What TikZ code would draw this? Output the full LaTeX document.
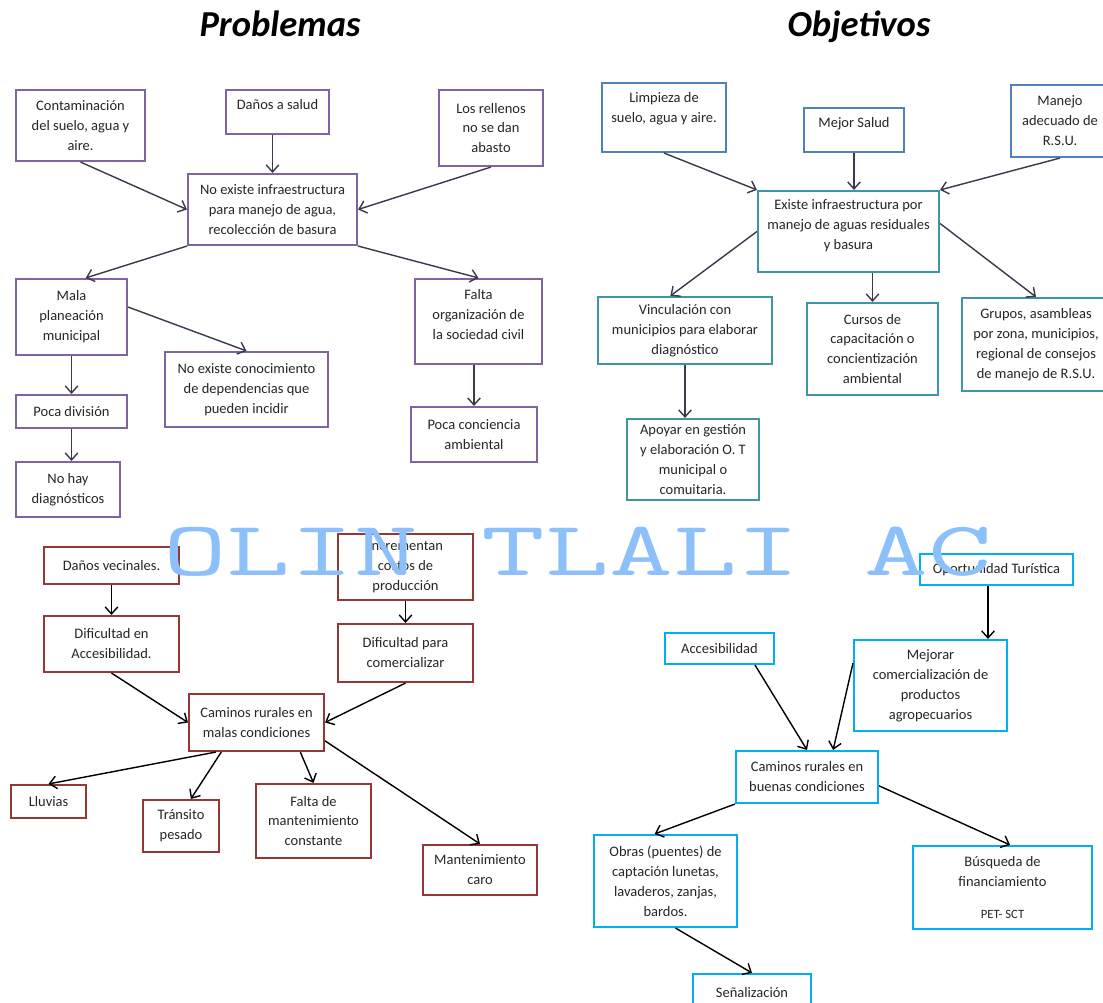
\documentclass[tikz,border=0pt]{standalone}
\usepackage{fontspec}
\usepackage{graphicx}
\setmainfont{Carlito}
\usetikzlibrary{arrows.meta}

\definecolor{ProblemPurple}{RGB}{128,100,162}
\definecolor{GoalBlue}{RGB}{79,129,189}
\definecolor{GoalTeal}{RGB}{62,150,165}
\definecolor{RoadRed}{RGB}{149,55,53}
\definecolor{RoadCyan}{RGB}{0,176,240}
\definecolor{LinkGray}{RGB}{60,56,78}
\definecolor{MarkBlue}{RGB}{140,192,250}

\begin{document}
\begin{tikzpicture}[x=0.025cm, y=-0.025cm]

\def\Px{0.025cm}
\def\Lift{\\[-4pt]\mbox{}}

\path[fill=white, use as bounding box] (0,0) rectangle (1103,1003);

% Styles
\tikzstyle{box} =
	[draw, align=center, inner sep=1pt, line width=1.5pt, text=black!85,
	 font=\fontsize{10.3}{14.2}\selectfont]

\tikzstyle{problem} = [box, draw=ProblemPurple]
\tikzstyle{goal} = [box, draw=GoalBlue]
\tikzstyle{goal core} = [box, draw=GoalTeal]
\tikzstyle{road problem} = [box, draw=RoadRed]
\tikzstyle{road goal} = [box, draw=RoadCyan]

\tikzstyle{heading} =
	[anchor=base, font=\fontsize{26}{30}\selectfont\bfseries\itshape]

% Headings
\node (Problemas) at (280,37) [heading] {Problemas};
\node (Objetivos) at (859,37) [heading] {Objetivos};

% Problemas: infraestructura
\node (Contam) at (80.5,125.5) [problem, minimum width=129*\Px, minimum height=71*\Px]
	{Contaminación\\del suelo, agua y\\aire.};
\node (Danos) at (277.5,112) [problem, minimum width=103*\Px, minimum height=44*\Px]
	{Daños a salud\Lift};
\node (Rellenos) at (491,128) [problem, minimum width=104*\Px, minimum height=76*\Px]
	{Los rellenos\\no se dan\\abasto};
\node (Infra) at (272.5,209.5) [problem, minimum width=169*\Px, minimum height=71*\Px]
	{No existe infraestructura\\para manejo de agua,\\recolección de  basura};
\node (Mala) at (71.5,317) [problem, minimum width=111*\Px, minimum height=76*\Px]
	{Mala\\planeación\\municipal};
\node (Conoc) at (246.5,389.5) [problem, minimum width=163*\Px, minimum height=75*\Px]
	{No existe conocimiento\\de dependencias que\\pueden incidir};
\node (Falta) at (478.5,321.5) [problem, minimum width=127*\Px, minimum height=85*\Px]
	{Falta\\organización de\\la sociedad civil\Lift};
\node (PocaDiv) at (71.5,411.5) [problem, minimum width=111*\Px, minimum height=33*\Px]
	{Poca división};
\node (NoHay) at (68,489.5) [problem, minimum width=104*\Px, minimum height=55*\Px]
	{No hay\\diagnósticos};
\node (PocaConc) at (474,434.5) [problem, minimum width=126*\Px, minimum height=55*\Px]
	{Poca conciencia\\ambiental};

% Objetivos: infraestructura
\node (Limpieza) at (664,117.5) [goal, minimum width=124*\Px, minimum height=69*\Px]
	{Limpieza de\\suelo, agua y aire.\\\mbox{}};
\node (Mejor) at (854,130) [goal, minimum width=100*\Px, minimum height=44*\Px]
	{Mejor Salud\Lift};
\node (Manejo) at (1060,121) [goal, minimum width=98*\Px, minimum height=72*\Px]
	{Manejo\\adecuado de\\R.S.U.};
\node (Existe) at (848.5,231.5) [goal core, minimum width=181*\Px, minimum height=81*\Px]
	{Existe infraestructura por\\manejo de aguas residuales\\y basura\Lift};
\node (Vinc) at (685,330.5) [goal core, minimum width=174*\Px, minimum height=67*\Px]
	{Vinculación con\\municipios para elaborar\\diagnóstico};
\node (Cursos) at (872.5,349) [goal core, minimum width=131*\Px, minimum height=92*\Px]
	{Cursos de\\capacitación o\\concientización\\ambiental};
\node (Grupos) at (1036,344.5) [goal core, minimum width=148*\Px, minimum height=93*\Px]
	{Grupos, asambleas\\por zona, municipios,\\regional de consejos\\de manejo de R.S.U.};
\node (Apoyar) at (693,459.5) [goal core, minimum width=132*\Px, minimum height=81*\Px]
	{Apoyar en gestión\\y elaboración O. T\\municipal o\\comuitaria.};

% Problemas: caminos
\node (DanosVec) at (111.5,565.5) [road problem, minimum width=135*\Px, minimum height=37*\Px]
	{Daños vecinales.};
\node (DifAcc) at (111.5,644) [road problem, minimum width=135*\Px, minimum height=56*\Px]
	{Dificultad en\\Accesibilidad.};
\node (Increm) at (405.5,567) [road problem, minimum width=135*\Px, minimum height=66*\Px]
	{Incrementan\\costos de\\producción};
\node (DifCom) at (405.5,653) [road problem, minimum width=135*\Px, minimum height=58*\Px]
	{Dificultad para\\comercializar};
\node (CamMalas) at (256.5,722.5) [road problem, minimum width=135*\Px, minimum height=57*\Px]
	{Caminos rurales en\\malas condiciones};
\node (Lluvias) at (48.5,801.5) [road problem, minimum width=75*\Px, minimum height=33*\Px]
	{Lluvias};
\node (Transito) at (181,826) [road problem, minimum width=76*\Px, minimum height=52*\Px]
	{Tránsito\\pesado};
\node (FaltaMant) at (313.5,821) [road problem, minimum width=115*\Px, minimum height=74*\Px]
	{Falta de\\mantenimiento\\constante};
\node (MantCaro) at (480,870) [road problem, minimum width=114*\Px, minimum height=50*\Px]
	{Mantenimiento\\caro};

% Objetivos: caminos
\node (Oport) at (996.5,569.5) [road goal, minimum width=153*\Px, minimum height=31*\Px]
	{Oportunidad Turística};
\node (Access) at (719.5,648.5) [road goal, minimum width=109*\Px, minimum height=31*\Px]
	{Accesibilidad};
\node (Mejorar) at (930.5,685.5) [road goal, minimum width=153*\Px, minimum height=91*\Px]
	{Mejorar\\comercialización de\\productos\\agropecuarios};
\node (CamBuenas) at (807,777) [road goal, minimum width=142*\Px, minimum height=52*\Px]
	{Caminos rurales en\\buenas condiciones};
\node (Obras) at (665.5,881) [road goal, minimum width=143*\Px, minimum height=92*\Px]
	{Obras (puentes) de\\captación lunetas,\\lavaderos, zanjas,\\bardos.};
\node (Busq) at (1002.5,887.5) [road goal, minimum width=179*\Px, minimum height=83*\Px]
	{Búsqueda de\\financiamiento\\[8pt]{\fontsize{9}{11}\selectfont PET- SCT}};
\node (Senal) at (752,993) [road goal, minimum width=118*\Px, minimum height=38*\Px]
	{Señalización};

% Edges

\tikzstyle{link} =
	[->, line width=1pt, >={Straight Barb[length=5pt,width=9pt]}]

\path[link, color=LinkGray]
	(Contam.south) edge (Infra.west)
	(Danos.south -| Infra.north) edge (Infra.north)
	(Rellenos.south) edge (Infra.east)
	(Infra.south west) edge (Mala.70)
	(Infra.south east) edge (Falta.north)
	(Mala.10) edge (Conoc.north)
	(Mala.south) edge (PocaDiv.north)
	(PocaDiv.south) edge (PocaDiv.south |- NoHay.north)
	(Falta.south -| PocaConc) edge (PocaConc.north);

\path[link, color=LinkGray]
	(Limpieza.south) edge (Existe.north west)
	(Mejor.south) edge (Mejor.south |- Existe.north)
	(Manejo.south) edge (Existe.north east)
	(Existe.west) edge (Vinc.113)
	(Existe.south -| Cursos) edge (Cursos.north)
	(Existe.5) edge (Grupos.north)
	(Vinc.south) edge (Vinc.south |- Apoyar.north);

\path[link, color=black]
	(DanosVec.south) edge (DifAcc.north)
	(DifAcc.south) edge (CamMalas.west)
	(Increm.south) edge (DifCom.north)
	(DifCom.south) edge (CamMalas.east)
	(CamMalas.216) edge (Lluvias.north)
	(CamMalas.220) edge (Transito.70)
	(CamMalas.326) edge (FaltaMant.north)
	(CamMalas.345) edge (MantCaro.north);

\path[link, color=black]
	(Oport.south -| Mejorar.39) edge (Mejorar.39)
	(Access.335) edge (CamBuenas.north)
	(Mejorar.164) edge (CamBuenas.46)
	(CamBuenas.south west) edge (Obras.103)
	(CamBuenas.353) edge (Busq.80)
	(Obras.282) edge (Senal.north);

% Watermark
\node (Watermark) at (577.5,575) [anchor=base, inner sep=0pt, text=MarkBlue,
	font=\ttfamily\fontsize{55}{60}\selectfont]
	{\scalebox{1.6}[1]{OLIN TLALI AC}};

\end{tikzpicture}
\end{document}
